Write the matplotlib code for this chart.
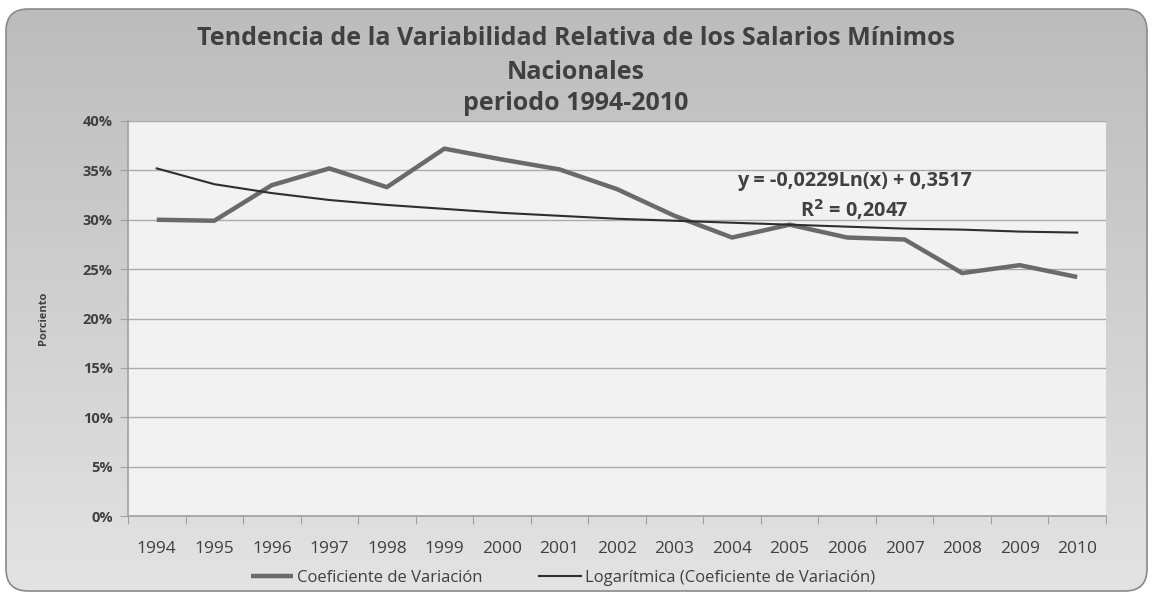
import numpy as np
import matplotlib.pyplot as plt
from matplotlib.patches import FancyBboxPatch
from matplotlib.colors import LinearSegmentedColormap
from matplotlib.ticker import FuncFormatter

years = ['1994', '1995', '1996', '1997', '1998', '1999', '2000', '2001', '2002',
         '2003', '2004', '2005', '2006', '2007', '2008', '2009', '2010']
coef_var = [30.0, 29.9, 33.5, 35.2, 33.3, 37.2, 36.1, 35.1, 33.1,
            30.4, 28.2, 29.5, 28.2, 28.0, 24.6, 25.4, 24.2]
tendencia = [35.2, 33.6, 32.7, 32.0, 31.5, 31.1, 30.7, 30.4, 30.1,
             29.9, 29.7, 29.5, 29.3, 29.1, 29.0, 28.8, 28.7]

plt.rcParams['font.family'] = ['Open Sans', 'DejaVu Sans']
txt = '#404040'

fig = plt.figure(figsize=(11.52, 5.95), dpi=100)
fig.patch.set_facecolor('white')

# fondo redondeado con degradado
bg = fig.add_axes([0, 0, 1, 1], zorder=0)
bg.set_xlim(0, 1152)
bg.set_ylim(595, 0)
bg.axis('off')
box = FancyBboxPatch((6, 9), 1141, 582, boxstyle='round,pad=0,rounding_size=22',
                     facecolor='none', edgecolor='#8a8a8a', lw=1.2)
bg.add_patch(box)
cmap = LinearSegmentedColormap.from_list('fondo', ['#bcbcbc', '#e3e3e3'])
grad = np.linspace(0, 1, 256).reshape(-1, 1)
im = bg.imshow(grad, extent=[6, 1147, 591, 9], cmap=cmap, aspect='auto', origin='upper')
im.set_clip_path(box)

ax = fig.add_axes([128 / 1152, 1 - 516 / 595, 978 / 1152, 395 / 595], zorder=1)
ax.set_facecolor('#f2f2f2')
x = np.arange(len(years))
ax.plot(x, coef_var, color='#6a6a6a', lw=3.2, label='Coeficiente de Variación',
        solid_capstyle='butt', zorder=3)
ax.plot(x, tendencia, color='#2e2e2e', lw=1.5, label='Logarítmica (Coeficiente de Variación)',
        zorder=4)

ax.set_xlim(-0.5, len(years) - 0.5)
ax.set_ylim(0, 40)
ax.set_yticks(np.arange(0, 41, 5))
ax.yaxis.set_major_formatter(FuncFormatter(lambda v, p: '%d%%' % v))
ax.grid(axis='y', color='#ababab', lw=1)
ax.set_axisbelow(True)
ax.set_xticks(np.arange(-0.5, len(years), 1))
ax.set_xticklabels([])
ax.set_xticks(x, minor=True)
ax.set_xticklabels(years, minor=True)
ax.tick_params(axis='x', which='major', length=6, color='#a0a0a0')
ax.tick_params(axis='x', which='minor', length=0, pad=18, labelsize=12.5, labelcolor=txt)
ax.tick_params(axis='y', length=6, color='#a0a0a0', labelsize=10.5, labelcolor=txt, pad=5)
for lab in ax.get_yticklabels():
    lab.set_fontweight('bold')
for s in ['top', 'right']:
    ax.spines[s].set_visible(False)
for s in ['left', 'bottom']:
    ax.spines[s].set_color('#a0a0a0')
    ax.spines[s].set_linewidth(1.2)

ax.set_ylabel('Porciento', fontsize=8, fontweight='bold', color=txt, labelpad=24)

ax.text(0.743, 0.848, 'y = -0,0229Ln(x) + 0,3517', transform=ax.transAxes,
        ha='center', va='center', fontsize=14.3, fontweight='bold', color=txt)
ax.text(0.743, 0.777, r'R$^{\mathbf{2}}$ = 0,2047', transform=ax.transAxes,
        ha='center', va='center', fontsize=14.3, fontweight='bold', color=txt)

tfs = 18
fig.text(0.5, 1 - 45 / 595, 'Tendencia de la Variabilidad Relativa de los Salarios Mínimos',
         ha='center', va='baseline', fontsize=tfs, fontweight='bold', color=txt)
fig.text(0.5, 1 - 79 / 595, 'Nacionales', ha='center', va='baseline', fontsize=tfs,
         fontweight='bold', color=txt)
fig.text(0.5, 1 - 110 / 595, 'periodo 1994-2010', ha='center', va='baseline', fontsize=tfs,
         fontweight='bold', color=txt)

leg = fig.legend(loc='center', bbox_to_anchor=(0.489, 1 - 578 / 595), ncol=2, frameon=False,
                 fontsize=12, handlelength=2.5, handletextpad=0.25, columnspacing=3.4)
for t in leg.get_texts():
    t.set_color(txt)

fig.savefig('out.png', dpi=100)
